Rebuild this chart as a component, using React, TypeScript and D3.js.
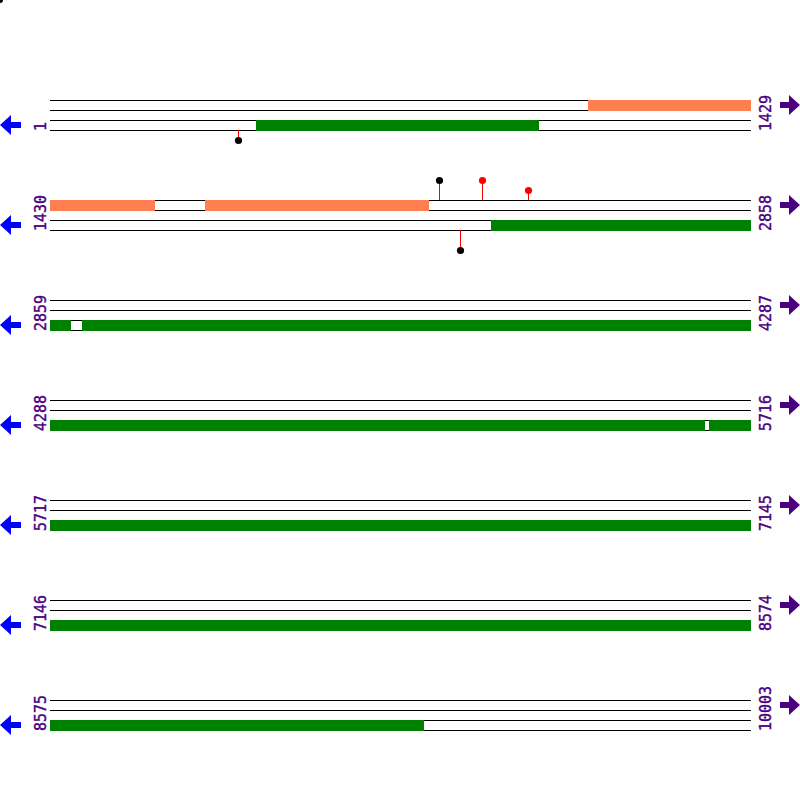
import React from 'react';
import * as d3 from 'd3';

// sequence layout
const seqLength = 10003;
const rowSize = 1429;
const rowStarts = [1, 1430, 2859, 4288, 5717, 7146, 8575];

// features, in sequence positions [start, end]
const coralFeatures = [[1098, 1644], [1746, 2201]];
const greenFeatures = [[421, 997], [2330, 2901], [2925, 5622], [5632, 9337]];

// variant markers: position, side (up = above top track), stem level, dot colour
const variantPos = [385, 2225, 2312, 2406, 2267];
const variantSide = ['down', 'up', 'up', 'up', 'down'];
const variantLevel = [1, 2, 2, 1, 2];
const variantColor = ['black', 'black', 'red', 'red', 'black'];

const W = 800;
const H = 800;
const rowTop = d3.scaleLinear().domain([0, 1]).range([100, 200]);

function Row({ idx }: { idx: number }) {
  const start = rowStarts[idx];
  const end = Math.min(start + rowSize - 1, seqLength);
  const x = d3.scaleLinear().domain([start, start + rowSize]).range([50, 751]);
  const y0 = rowTop(idx);
  const clip = (f: number[]) => {
    const a = Math.max(f[0], start);
    const b = Math.min(f[1] + 1, start + rowSize);
    return b > a ? [a, b] : null;
  };
  const px = (v: number) => Math.floor(x(v)) + 0.5;

  return (
    <g>
      {[0, 10, 20, 30].map(d => (
        <line key={d} x1={50} x2={751} y1={y0 + d + 0.5} y2={y0 + d + 0.5} stroke="black" strokeWidth={1} />
      ))}
      {coralFeatures.map((f, i) => {
        const c = clip(f);
        if (!c) return null;
        return <rect key={'c' + i} x={Math.round(x(c[0]))} y={y0} width={Math.round(x(c[1])) - Math.round(x(c[0]))} height={11} fill="#ff7f50" />;
      })}
      {greenFeatures.map((f, i) => {
        const c = clip(f);
        if (!c) return null;
        return <rect key={'g' + i} x={Math.round(x(c[0]))} y={y0 + 20} width={Math.round(x(c[1])) - Math.round(x(c[0]))} height={11} fill="green" />;
      })}
      {variantPos.map((p, i) => {
        if (p < start || p > end) return null;
        const cx = px(p);
        const len = variantLevel[i] * 10;
        const yBase = variantSide[i] === 'up' ? y0 : y0 + 30;
        const yTip = variantSide[i] === 'up' ? yBase - len : yBase + len;
        return (
          <g key={'v' + i}>
            <line x1={cx} x2={cx} y1={yBase} y2={yTip} stroke="red" strokeWidth={1} />
            <circle cx={cx} cy={yTip + 0.5} r={3.6} fill={variantColor[i]} />
          </g>
        );
      })}
      {/* position labels */}
      <text transform={`translate(46,${y0 + 31}) rotate(-90)`} fill="#4b0082" stroke="#4b0082" strokeWidth={0.4}
        fontFamily="DejaVu Sans Mono" fontSize={15}>{start}</text>
      <text transform={`translate(771,${y0 + 31}) rotate(-90)`} fill="#4b0082" stroke="#4b0082" strokeWidth={0.4}
        fontFamily="DejaVu Sans Mono" fontSize={15}>{end}</text>
      {/* strand arrows */}
      <path d={`M0,${y0 + 25} L11,${y0 + 15} L11,${y0 + 22} L21,${y0 + 22} L21,${y0 + 28} L11,${y0 + 28} L11,${y0 + 35} Z`} fill="blue" />
      <path d={`M800,${y0 + 5} L789,${y0 - 5} L789,${y0 + 2} L780,${y0 + 2} L780,${y0 + 8} L789,${y0 + 8} L789,${y0 + 15} Z`} fill="#4b0082" />
    </g>
  );
}

export default function App() {
  return (
    <svg width={W} height={H} style={{ position: 'absolute', left: 0, top: 0, background: 'white' }}>
      <rect width={W} height={H} fill="white" />
      <circle cx={0} cy={0} r={3} fill="black" />
      {rowStarts.map((s, i) => <Row key={s} idx={i} />)}
    </svg>
  );
}
